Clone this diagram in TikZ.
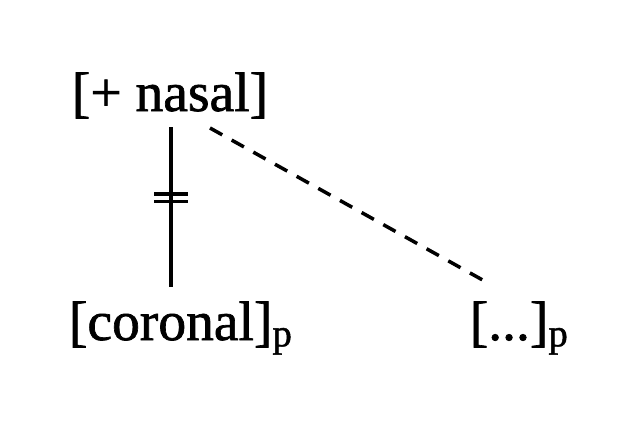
\documentclass[tikz,border=0pt]{standalone}
\usepackage{fontspec}
\setmainfont[FakeBold=1.2]{Liberation Serif}
\usetikzlibrary{calc}

\begin{document}
\begin{tikzpicture}[x=1cm, y=1cm, line width=2.5pt,
    feat/.style={inner sep=0pt, font=\fontsize{39.5}{47}\selectfont}]
    \useasboundingbox (0, 0) rectangle (16, 10.525);

    \coordinate (N) at (4.25, 7.75);    % [+ nasal]
    \coordinate (C) at (1.68, 2.025);   % [coronal]
    \coordinate (D) at (11.7, 2.025);   % [...]

    \coordinate (Ntop) at (4.275, 7.35);
    \coordinate (Cend) at (4.275, 3.35);
    \coordinate (Nside) at (5.25, 7.325);
    \coordinate (Dend) at (12.2, 3.45);

    \node[feat, anchor=base] (nasal) at (N) {[+ nasal]};
    \node[feat, anchor=base west] (coronal) at (C) {[coronal]\textsubscript{p}};
    \node[feat, anchor=base west] (dots) at (D) {[...]\textsubscript{p}};

    \draw (Ntop) -- (Cend);
    \draw[dash pattern=on 0.35cm off 0.27cm] (Nside) -- (Dend);

    % delinking bars
    \draw ($(Ntop)!0.42!(Cend)$) ++(-0.425, 0) -- ++(0.85, 0);
    \draw ($(Ntop)!0.466!(Cend)$) ++(-0.425, 0) -- ++(0.85, 0);
\end{tikzpicture}
\end{document}
